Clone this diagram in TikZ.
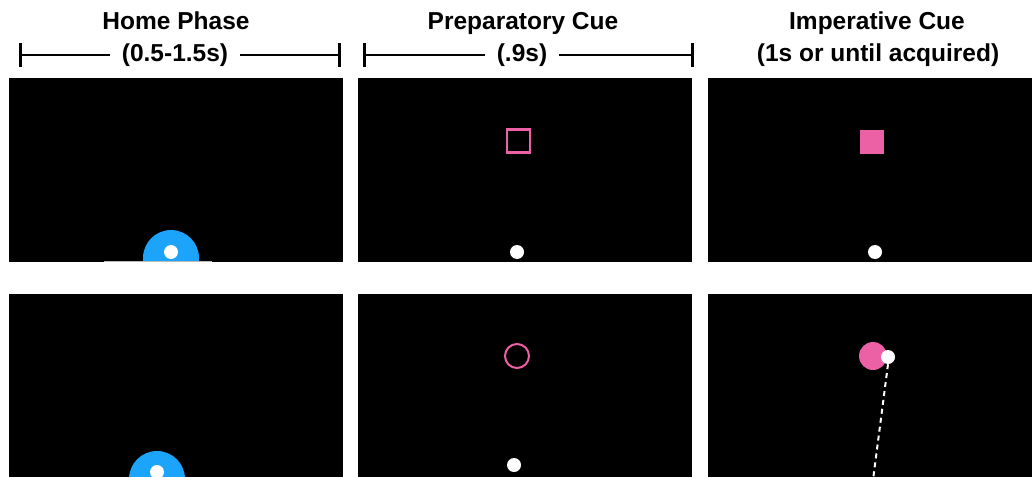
\documentclass[tikz,border=0pt]{standalone}
\usepackage{fontspec}
\setmainfont{Liberation Sans}
\usetikzlibrary{positioning}
\definecolor{homeblue}{RGB}{28,163,250}
\definecolor{cuepink}{RGB}{236,96,166}
\tikzset{
  panel/.style={fill=black},
  title/.style={font=\bfseries\fontsize{24.5}{29}\selectfont, anchor=base, inner xsep=12pt},
  dot/.style={circle, fill=white, minimum size=14pt, inner sep=0pt},
  homedisc/.style={circle, fill=homeblue, minimum size=56pt, inner sep=0pt},
  target/.style={cuepink, inner sep=0pt},
  bar/.style={line width=2pt},
  barend/.style={line width=3pt},
}
\begin{document}
\begin{tikzpicture}[x=1pt, y=-1pt]
    \useasboundingbox (0,0) rectangle (1032,476);
    \clip (0,0) rectangle (1032,476);
    % Column titles
    \node[title] (homeT) at (176,30) {Home Phase};
    \node[title] (homeD) at (175,62) {(0.5-1.5s)};
    \node[title] (prepT) at (523,30) {Preparatory Cue};
    \node[title] (prepD) at (522,62) {(.9s)};
    \node[title] (impT) at (877,30) {Imperative Cue};
    \node[title] (impD) at (878,62) {(1s or until acquired)};
    % Time bars
    \coordinate (homeL) at (20,55);
    \coordinate (homeR) at (339,55);
    \coordinate (prepL) at (364,55);
    \coordinate (prepR) at (692,55);
    \draw[bar] (homeL) -- (homeL -| homeD.west);
    \draw[bar] (homeD.east |- homeR) -- (homeR);
    \draw[bar] (prepL) -- (prepL -| prepD.west);
    \draw[bar] (prepD.east |- prepR) -- (prepR);
    \foreach \c in {homeL,homeR,prepL,prepR}
        \draw[barend] ([yshift=12pt]\c) -- ([yshift=-12pt]\c);
    % Screens
    \fill[panel] (9,78) rectangle (343,262);
    \fill[panel] (358,78) rectangle (692,262);
    \fill[panel] (708,78) rectangle (1040,262);
    \fill[panel] (9,294) rectangle (343,490);
    \fill[panel] (358,294) rectangle (692,490);
    \fill[panel] (708,294) rectangle (1040,490);
    % Home phase
    \begin{scope}
        \clip (9,78) rectangle (343,261);
        \node[homedisc] (homeA) at (171,258) {};
    \end{scope}
    \draw[gray!55, line width=1pt] (104,261.5) -- (212,261.5);
    \node[dot] (cursorA) at (171,252) {};
    \node[homedisc] (homeD2) at (157,479) {};
    \node[dot] (cursorD) at (157,472) {};
    % Preparatory cue
    \node[target, draw, line width=2.5pt, minimum size=23pt] (targetB) at (518.5,141) {};
    \node[dot] (cursorB) at (517,252) {};
    \node[target, draw, circle, line width=2pt, minimum size=24pt] (targetE) at (517,356) {};
    \node[dot] (cursorE) at (514,465) {};
    % Imperative cue
    \node[target, fill, minimum size=24pt] (targetC) at (872,142) {};
    \node[dot] (cursorC) at (875,252) {};
    \node[target, fill, circle, minimum size=28pt] (targetF) at (873,356) {};
    \node[dot] (cursorF) at (888,357) {};
    \coordinate (startF) at (873,480);
    \draw[white, line width=2pt, dash pattern=on 5pt off 4pt] (cursorF.south) -- (startF);
\end{tikzpicture}
\end{document}
